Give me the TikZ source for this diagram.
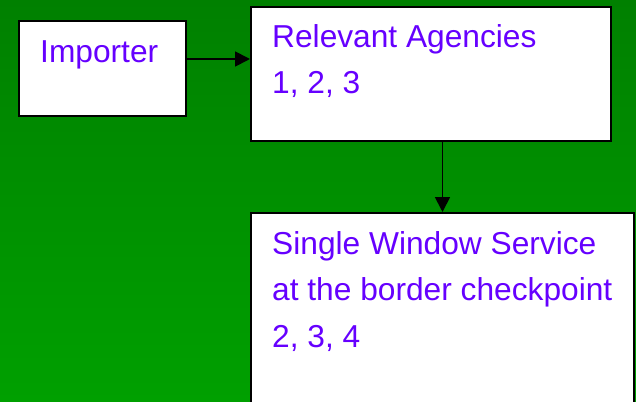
\documentclass[tikz,border=0pt]{standalone}
\usepackage{fontspec}
\setmainfont{Liberation Sans}
\usetikzlibrary{arrows.meta}
\definecolor{bgtop}{HTML}{008000}
\definecolor{bgbottom}{HTML}{00A000}
\definecolor{txtpurple}{HTML}{6600FF}
\tikzset{
  box/.style={draw=black, line width=2pt, fill=white, rectangle, inner sep=0pt},
  lbl/.style={anchor=base west, inner sep=0pt, text=txtpurple, font=\fontsize{31.7}{46}\selectfont},
  flow/.style={line width=1.8pt, -{Triangle[length=15pt,width=15pt]}}
}
\begin{document}
\begin{tikzpicture}[x=1pt, y=-1pt]
  \useasboundingbox (0,0) rectangle (636,401);
  \clip (0,0) rectangle (636,401);
  % background
  \shade[top color=bgtop, bottom color=bgbottom] (0,0) rectangle (636,401);
  % boxes
  \node[box, minimum width=167pt, minimum height=95pt] (imp) at (102.5,68.5) {};
  \node[box, minimum width=360pt, minimum height=134pt] (rel) at (431,74) {};
  \node[box, minimum width=383pt, minimum height=240pt] (swi) at (442.5,333) {};
  % texts
  \node[lbl] (impt) at (40,63) {Importer};
  \node[lbl] (relt1) at (272,48) {Relevant Agencies};
  \node[lbl] (relt2) at (272,94) {1, 2, 3};
  \node[lbl] (swit1) at (272,254) {Single Window Service};
  \node[lbl] (swit2) at (272,300) {at the border checkpoint};
  \node[lbl] (swit3) at (272,347) {2, 3, 4};
  % connectors
  \draw[flow] ([yshift=9.5pt]imp.east) -- ([yshift=9.5pt]imp.east -| rel.west);
  \draw[flow] (rel.south -| swi.north) -- (swi.north);
\end{tikzpicture}
\end{document}
